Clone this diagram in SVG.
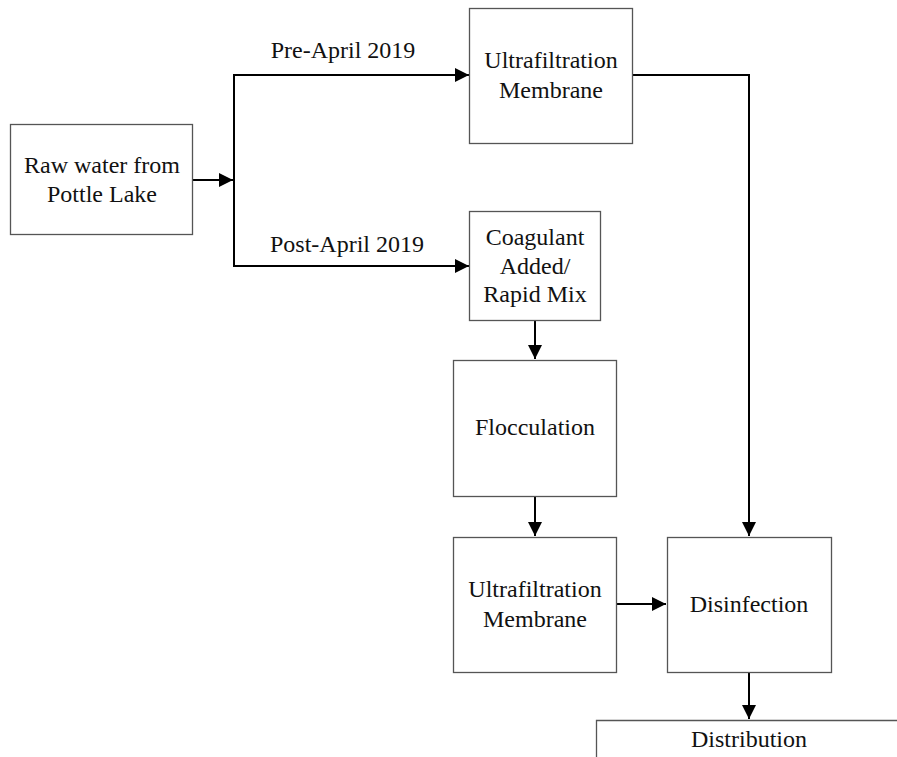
<svg xmlns="http://www.w3.org/2000/svg" width="897" height="757" viewBox="0 0 897 757">
<style>
.box{fill:#fff;stroke:#555;stroke-width:1.3}
.t{font-family:"Liberation Serif","Times New Roman",serif;font-size:24px;fill:#111;text-anchor:middle}
.c{fill:none;stroke:#000;stroke-width:2}
</style>
<defs>
<marker id="ah" viewBox="0 0 10 10" refX="10" refY="5" markerWidth="14" markerHeight="14" markerUnits="userSpaceOnUse" orient="auto">
<path d="M0,0 L10,5 L0,10 z" fill="#000"/>
</marker>
</defs>
<rect width="897" height="757" fill="#fff"/>
<g id="connectors">
<path class="c" d="M192,180 L233,180" marker-end="url(#ah)"/>
<path class="c" d="M469,75 L234,75 L234,266 L469,266" marker-end="url(#ah)"/>
<path class="c" d="M234,75 L469,75" marker-end="url(#ah)"/>
<path class="c" d="M632,75 L749,75 L749,536" marker-end="url(#ah)"/>
<path class="c" d="M535,320 L535,359" marker-end="url(#ah)"/>
<path class="c" d="M535,496 L535,536" marker-end="url(#ah)"/>
<path class="c" d="M616,604 L666,604" marker-end="url(#ah)"/>
<path class="c" d="M749,672 L749,719" marker-end="url(#ah)"/>
<text class="t" x="343" y="58">Pre-April 2019</text>
<text class="t" x="347" y="252">Post-April 2019</text>
</g>
<g id="raw">
<rect class="box" x="10.5" y="124.5" width="182" height="110"/>
<text class="t" x="102" y="173">Raw water from</text>
<text class="t" x="102" y="202">Pottle Lake</text>
</g>
<g id="uf1">
<rect class="box" x="469.5" y="8.5" width="163" height="135"/>
<text class="t" x="551" y="68">Ultrafiltration</text>
<text class="t" x="551" y="98">Membrane</text>
</g>
<g id="coag">
<rect class="box" x="469.5" y="211.5" width="131" height="109"/>
<text class="t" x="535" y="245">Coagulant</text>
<text class="t" x="535" y="274">Added/</text>
<text class="t" x="535" y="302">Rapid Mix</text>
</g>
<g id="floc">
<rect class="box" x="453.5" y="360.5" width="163" height="136"/>
<text class="t" x="535" y="435">Flocculation</text>
</g>
<g id="uf2">
<rect class="box" x="453.5" y="537.5" width="163" height="135"/>
<text class="t" x="535" y="597">Ultrafiltration</text>
<text class="t" x="535" y="627">Membrane</text>
</g>
<g id="dis">
<rect class="box" x="667.5" y="537.5" width="164" height="135"/>
<text class="t" x="749" y="612">Disinfection</text>
</g>
<g id="dist">
<path class="box" d="M596.5,770 L596.5,720.5 L900,720.5"/>
<text class="t" x="749" y="747">Distribution</text>
</g>
</svg>
